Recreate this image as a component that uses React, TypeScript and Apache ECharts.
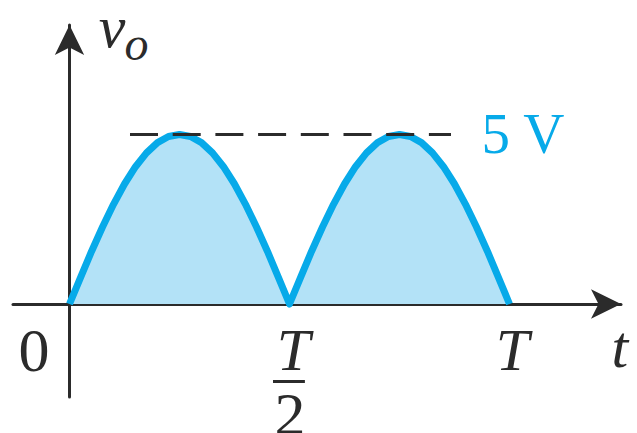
import React, { useEffect, useRef } from "react";
import * as echarts from "echarts";

// time in units of the period T
const timeT = [
  0, 0.025, 0.05, 0.075, 0.1, 0.125, 0.15, 0.175, 0.2, 0.225, 0.25, 0.275, 0.3, 0.325, 0.35, 0.375, 0.4,
  0.425, 0.45, 0.475, 0.5, 0.525, 0.55, 0.575, 0.6, 0.625, 0.65, 0.675, 0.7, 0.725, 0.75, 0.775, 0.8,
  0.825, 0.85, 0.875, 0.9, 0.925, 0.95, 0.975, 1,
];
// output voltage v_o (V), full-wave rectified
const voltage = [
  0, 0.78, 1.55, 2.27, 2.94, 3.54, 4.05, 4.46, 4.76, 4.94, 5, 4.94, 4.76, 4.46, 4.05, 3.54, 2.94,
  2.27, 1.55, 0.78, 0, 0.78, 1.55, 2.27, 2.94, 3.54, 4.05, 4.46, 4.76, 4.94, 5, 4.94, 4.76,
  4.46, 4.05, 3.54, 2.94, 2.27, 1.55, 0.78, 0,
];
const peakVoltage = 5;
const peakLabel = "5 V";
const tickLabels = ["0", "T", "2", "T", "t"];
const axisTitle = ["v", "o"];

const SERIF = "'Liberation Serif', 'DejaVu Serif', serif";
const CYAN = "#07aae9";
const FILL = "#b3e2f7";
const INK = "#2b2b2b";

export default function App() {
  const ref = useRef<HTMLDivElement>(null);

  useEffect(() => {
    if (!ref.current) return;
    const chart = echarts.init(ref.current, undefined, { renderer: "svg" });

    const lbl = (x: number, y: number, text: string, extra: any) => ({
      value: [x, y],
      itemStyle: { opacity: 1 },
      label: {
        show: true,
        position: "inside",
        formatter: text,
        fontFamily: SERIF,
        color: INK,
        align: "center",
        verticalAlign: "middle",
        ...extra,
      },
    });

    const option: any = {
      animation: false,
      backgroundColor: "#ffffff",
      grid: { left: 13, right: 16, top: 25, bottom: 36, containLabel: false },
      xAxis: {
        type: "value",
        min: -0.1284,
        max: 1.2534,
        axisLine: {
          show: true,
          onZero: true,
          symbol: ["none", "arrow"],
          symbolSize: [22, 30],
          lineStyle: { color: INK, width: 3 },
        },
        axisTick: { show: false },
        axisLabel: { show: false },
        splitLine: { show: false },
      },
      yAxis: {
        type: "value",
        min: -2.743,
        max: 8.23,
        axisLine: {
          show: true,
          onZero: true,
          symbol: ["none", "arrow"],
          symbolSize: [22, 30],
          lineStyle: { color: INK, width: 3 },
        },
        axisTick: { show: false },
        axisLabel: { show: false },
        splitLine: { show: false },
      },
      series: [
        {
          type: "line",
          data: timeT.map((t, i) => [t, voltage[i]]),
          showSymbol: false,
          symbol: "none",
          smooth: false,
          lineStyle: { color: CYAN, width: 7, join: "round" },
          areaStyle: { color: FILL, opacity: 1 },
          z: 2,
          markLine: {
            silent: true,
            symbol: ["none", "none"],
            label: { show: false },
            lineStyle: { color: INK, width: 3, type: [28, 14.7] },
            data: [[{ coord: [0.1375, peakVoltage] }, { coord: [0.867, peakVoltage] }]],
          },
        },
        {
          type: "scatter",
          symbolSize: 0,
          clip: false,
          silent: true,
          z: 5,
          itemStyle: { opacity: 1 },
          data: [
            lbl(-0.0807, -1.357, tickLabels[0], { fontSize: 62 }),
            lbl(0.5089, -1.357, tickLabels[1], { fontSize: 60, fontStyle: "italic" }),
            lbl(0.5011, -3.25, tickLabels[2], { fontSize: 62, lineHeight: 30 }),
            lbl(1.0068, -1.357, tickLabels[3], { fontSize: 60, fontStyle: "italic" }),
            lbl(1.251, -1.27, tickLabels[4], { fontSize: 60, fontStyle: "italic" }),
            lbl(0.0966, 8.16, axisTitle[0], { fontSize: 60, fontStyle: "italic", lineHeight: 30 }),
            lbl(0.152, 7.68, axisTitle[1], { fontSize: 48, fontStyle: "italic", lineHeight: 30 }),
            lbl(1.0307, 5.03, peakLabel, { fontSize: 57, color: CYAN }),
          ],
          markLine: {
            silent: true,
            symbol: ["none", "none"],
            label: { show: false },
            lineStyle: { color: INK, width: 3, type: "solid" },
            data: [[{ coord: [0.4625, -2.271] }, { coord: [0.535, -2.271] }]],
          },
        },
      ],
    };

    chart.setOption(option);
    return () => chart.dispose();
  }, []);

  return (
    <div
      ref={ref}
      style={{ position: "absolute", left: 0, top: 0, width: 637, height: 433, background: "#fff" }}
    />
  );
}
